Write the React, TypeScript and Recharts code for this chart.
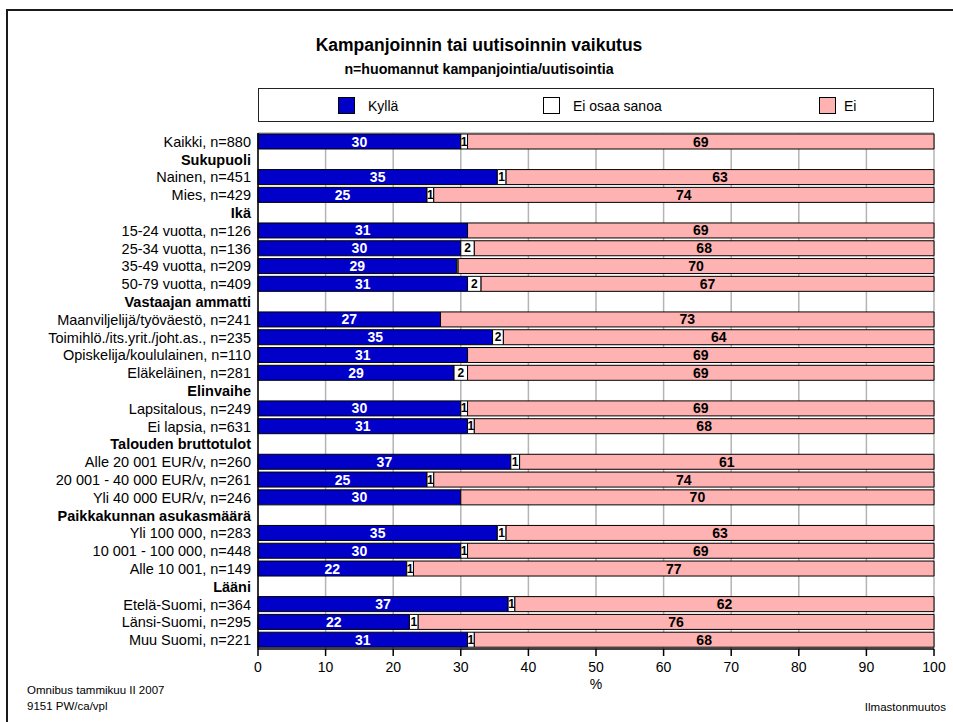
import { BarChart, Bar, XAxis, YAxis, CartesianGrid, Legend, LabelList } from 'recharts';

const rowLabels = [
  'Kaikki, n=880', 'Sukupuoli', 'Nainen, n=451', 'Mies, n=429', 'Ikä',
  '15-24 vuotta, n=126', '25-34 vuotta, n=136', '35-49 vuotta, n=209', '50-79 vuotta, n=409',
  'Vastaajan ammatti', 'Maanviljelijä/työväestö, n=241', 'Toimihlö./its.yrit./joht.as., n=235',
  'Opiskelija/koululainen, n=110', 'Eläkeläinen, n=281', 'Elinvaihe', 'Lapsitalous, n=249',
  'Ei lapsia, n=631', 'Talouden bruttotulot', 'Alle 20 001 EUR/v, n=260',
  '20 001 - 40 000 EUR/v, n=261', 'Yli 40 000 EUR/v, n=246', 'Paikkakunnan asukasmäärä',
  'Yli 100 000, n=283', '10 001 - 100 000, n=448', 'Alle 10 001, n=149', 'Lääni',
  'Etelä-Suomi, n=364', 'Länsi-Suomi, n=295', 'Muu Suomi, n=221',
];

const headerRows = ['Sukupuoli', 'Ikä', 'Vastaajan ammatti', 'Elinvaihe', 'Talouden bruttotulot', 'Paikkakunnan asukasmäärä', 'Lääni'];

const seriesNames = ['Kyllä', 'Ei osaa sanoa', 'Ei'];

const kylla = [30, null, 35.4, 25, null, 31, 30, 29.4, 31, null, 27, 34.7, 31, 29, null, 30, 31, null, 37.4, 25, 30, null, 35.4, 30, 22, null, 37, 22.4, 31];
const eiOsaa = [1, null, 1.3, 1, null, 0, 2, 0.2, 2, null, 0, 1.6, 0, 2, null, 1, 1, null, 1.3, 1, 0, null, 1.3, 1, 1, null, 1, 1.3, 1];
const ei = [69, null, 63.3, 74, null, 69, 68, 70.4, 67, null, 73, 63.7, 69, 69, null, 69, 68, null, 61.3, 74, 70, null, 63.3, 69, 77, null, 62, 76.3, 68];

const xTicks = [0, 10, 20, 30, 40, 50, 60, 70, 80, 90, 100];

const rows = rowLabels.map((label, i) => ({ label, kylla: kylla[i], eiOsaa: eiOsaa[i], ei: ei[i] }));

const FONT = '"Liberation Sans", Arial, Helvetica, sans-serif';
const BLUE = '#0000c8';
const PINK = '#ffb2b2';
const PLOT_TOP = 133;

const makeLabel = (fill: string, size: number) => (props: any) => {
  const { x, y, width, height, value } = props;
  if (value == null || value < 0.5) return null;
  return (
    <text
      x={Number(x) + Number(width) / 2}
      y={Number(y) + Number(height) / 2}
      textAnchor="middle"
      dominantBaseline="central"
      fill={fill}
      fontSize={size}
      fontWeight="bold"
      fontFamily={FONT}
    >
      {Math.round(value)}
    </text>
  );
};

const CategoryTick = (props: any) => {
  const { x, y, payload } = props;
  const bold = headerRows.includes(payload.value);
  return (
    <text x={x} y={y} textAnchor="end" dominantBaseline="central" fontSize={14.5} fontFamily={FONT}
      fontWeight={bold ? 'bold' : 'normal'} fill="#000">
      {payload.value}
    </text>
  );
};

// legend item offsets inside the box
const legendOffsets = [79, 284, 560];

const LegendBox = (props: any) => {
  const items = [...(props.payload || [])].sort(
    (a: any, b: any) => seriesNames.indexOf(a.value) - seriesNames.indexOf(b.value));
  return (
    <div style={{ position: 'relative', width: 674, height: 32, border: '1px solid #222', background: '#fff', fontFamily: FONT, fontSize: 14 }}>
      {items.map((it: any, i: number) => (
        <div key={i} style={{ position: 'absolute', left: legendOffsets[i], top: 8, display: 'flex', alignItems: 'center' }}>
          <div style={{ width: 17, height: 17, background: it.color, border: '1px solid #000', boxSizing: 'border-box' }} />
          <span style={{ marginLeft: i === 2 ? 8 : 13, color: '#000' }}>{it.value}</span>
        </div>
      ))}
    </div>
  );
};

export default function App() {
  return (
    <div style={{ position: 'absolute', left: 0, top: 0, width: 953, height: 722, background: '#fff', overflow: 'hidden' }}>
      <div style={{ position: 'absolute', left: 6, top: 9, width: 960, height: 760, borderLeft: '2px solid #1a1a1a', borderTop: '2px solid #1a1a1a' }} />
      <svg width={953} height={722} style={{ position: 'absolute', left: 0, top: 0 }}>
        <text x={479} y={51} textAnchor="middle" fontFamily={FONT} fontWeight="bold" fontSize={17.5} fill="#000">
          Kampanjoinnin tai uutisoinnin vaikutus
        </text>
        <text x={479} y={74} textAnchor="middle" fontFamily={FONT} fontWeight="bold" fontSize={14.2} fill="#000">
          n=huomannut kampanjointia/uutisointia
        </text>
        <text x={596} y={689} textAnchor="middle" fontFamily={FONT} fontSize={14} fill="#000">%</text>
        <text x={27} y={694} fontFamily={FONT} fontSize={11.5} fill="#000">Omnibus tammikuu II 2007</text>
        <text x={27} y={710} fontFamily={FONT} fontSize={11.5} fill="#000">9151 PW/ca/vpl</text>
        <text x={946} y={711} textAnchor="end" fontFamily={FONT} fontSize={11.5} fill="#000">Ilmastonmuutos</text>
      </svg>
      <div style={{ position: 'absolute', left: 0, top: 0 }}>
        <BarChart width={953} height={722} data={rows} layout="vertical"
          margin={{ top: PLOT_TOP, right: 19, bottom: 43, left: 8 }} barSize={15} barGap={0}>
          <CartesianGrid vertical horizontal stroke="#b4b4b4" strokeWidth={1.5} horizontalPoints={[PLOT_TOP]} />
          <XAxis type="number" domain={[0, 100]} ticks={xTicks} interval={0} height={30}
            axisLine={{ stroke: '#000', strokeWidth: 1.5 }} tickLine={{ stroke: '#000', strokeWidth: 1.5 }}
            tickSize={7} tickMargin={6} tick={{ fill: '#000', fontSize: 14, fontFamily: FONT }} />
          <YAxis type="category" dataKey="label" width={250} interval={0}
            axisLine={{ stroke: '#000', strokeWidth: 1.5 }} tickLine={false} tickSize={0} tickMargin={7}
            tick={<CategoryTick />} />
          <Legend layout="horizontal" verticalAlign="middle" align="center" content={<LegendBox />}
            wrapperStyle={{ position: 'absolute', left: 258, top: 88, width: 676, height: 34 }} />
          <Bar dataKey="kylla" name={seriesNames[0]} stackId="a" fill={BLUE} stroke="#000" strokeWidth={1} isAnimationActive={false}>
            <LabelList dataKey="kylla" content={makeLabel('#fff', 14)} />
          </Bar>
          <Bar dataKey="eiOsaa" name={seriesNames[1]} stackId="a" fill="#fff" stroke="#000" strokeWidth={1} isAnimationActive={false}>
            <LabelList dataKey="eiOsaa" content={makeLabel('#000', 12)} />
          </Bar>
          <Bar dataKey="ei" name={seriesNames[2]} stackId="a" fill={PINK} stroke="#000" strokeWidth={1} isAnimationActive={false}>
            <LabelList dataKey="ei" content={makeLabel('#000', 14)} />
          </Bar>
        </BarChart>
      </div>
    </div>
  );
}
